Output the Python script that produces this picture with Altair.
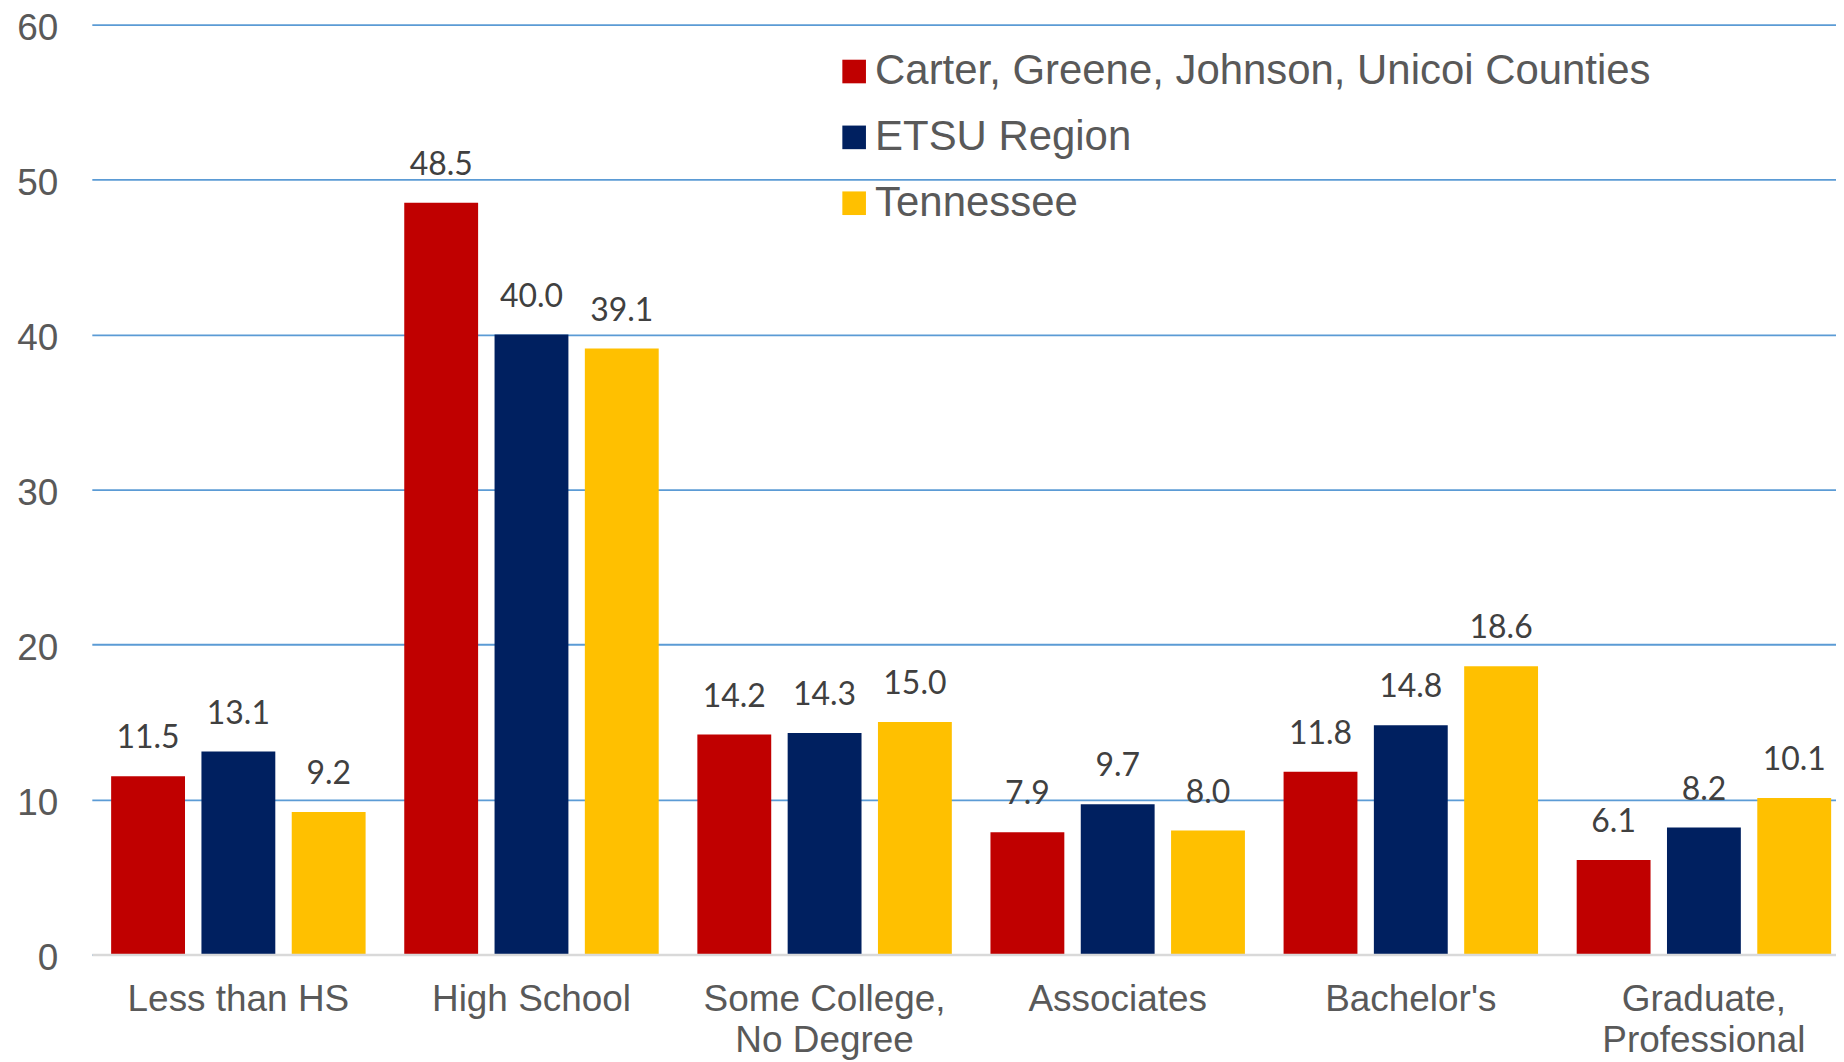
import altair as alt
import pandas as pd

categories = ["Less than HS", "High School", "Some College,\nNo Degree",
              "Associates", "Bachelor's", "Graduate,\nProfessional"]
series = ["Carter, Greene, Johnson, Unicoi Counties", "ETSU Region", "Tennessee"]
colors = ["#C00000", "#002060", "#FFC000"]
carter = [11.5, 48.5, 14.2, 7.9, 11.8, 6.1]
etsu = [13.1, 40.0, 14.3, 9.7, 14.8, 8.2]
tennessee = [9.2, 39.1, 15.0, 8.0, 18.6, 10.1]
y_ticks = [0, 10, 20, 30, 40, 50, 60]

rows = []
for s, vals in zip(series, [carter, etsu, tennessee]):
    for c, v in zip(categories, vals):
        rows.append({"category": c, "series": s, "value": v})
df = pd.DataFrame(rows)

base = alt.Chart(df).encode(
    x=alt.X("category:N", sort=categories,
            scale=alt.Scale(paddingInner=0, paddingOuter=0, range=[0, 1762.5]),
            axis=alt.Axis(title=None, labelAngle=0, ticks=False, tickSize=0,
                          labelPadding=27, labelFontSize=37, labelFont="Liberation Sans",
                          labelColor="#595959", labelLineHeight=41, labelLimit=1000,
                          labelExpr="split(datum.label, '\\n')",
                          domainColor="#D9D9D9", domainWidth=2.5, zindex=1,
                          grid=False)),
    xOffset=alt.XOffset("series:N", sort=series,
                        scale=alt.Scale(paddingInner=0.182, paddingOuter=0.214)),
    y=alt.Y("value:Q", scale=alt.Scale(domain=[0, 60], nice=False),
            axis=alt.Axis(title=None, values=y_ticks, ticks=False, tickSize=0,
                          domain=False, labelPadding=34, labelFontSize=37,
                          labelFont="Liberation Sans", labelColor="#595959",
                          labelOffset=3.5,
                          gridColor="#5B9BD5", gridWidth=1.8)),
)

bars = base.mark_bar().encode(
    color=alt.Color("series:N", sort=series,
                    scale=alt.Scale(domain=series, range=colors),
                    legend=alt.Legend(title=None, orient="none", legendX=743, legendY=26,
                                      symbolType="square", symbolSize=560,
                                      symbolStrokeWidth=0, labelFontSize=42,
                                      labelFont="Liberation Sans", labelColor="#595959",
                                      labelOffset=0, rowPadding=24, labelLimit=1000))
)

labels = base.mark_text(baseline="alphabetic", dy=-28, font="Lato", fontSize=32,
                        color="#404040").encode(
    text=alt.Text("value:Q", format=".1f")
)

chart = alt.layer(bars, labels).properties(
    width=1748, height=932,
    autosize=alt.AutoSizeParams(type="none"),
    padding={"left": 84, "top": 15.5, "right": 0, "bottom": 106.5},
    background="white",
).configure_view(stroke=None)

chart.save("out.html", embed_options={"renderer": "svg", "actions": False})
